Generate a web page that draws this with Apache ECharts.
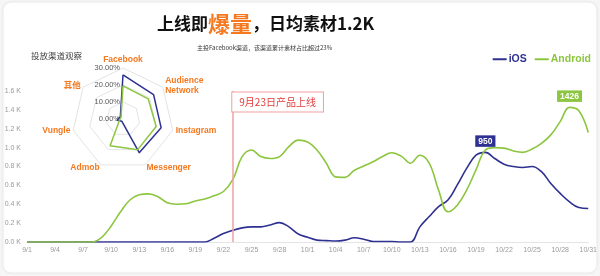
<!DOCTYPE html>
<html>
<head>
<meta charset="utf-8">
<script src="https://cdn.jsdelivr.net/npm/echarts@6/dist/echarts.min.js"></script>
<style>
html,body{margin:0;padding:0;background:#f6f6f6;}
#c{width:600px;height:276px;}
</style>
</head>
<body>
<div id="c"></div>
<script>
// ---- data ----
const dates = [];
for (let d = 1; d <= 30; d++) dates.push('9/' + d);
for (let d = 1; d <= 31; d++) dates.push('10/' + d);

const iosValues = [
  0,0,0,0,0,0,0,0,0,0,
  0,0,0,0,0,0,0,0,0,0,
  40,90,125,150,160,160,180,205,160,85,
  50,20,15,10,20,45,30,5,5,5,
  0,0,160,270,375,445,605,780,920,950,
  885,825,800,790,800,745,620,515,425,365,
  355
];
const androidValues = [
  0,0,0,0,0,0,0,0,50,170,
  320,445,500,510,480,415,400,405,435,455,
  490,535,660,905,975,905,885,905,1010,1080,
  1060,975,835,690,685,760,805,850,905,945,
  910,835,920,835,550,320,390,550,765,975,
  1000,995,965,950,985,1045,1135,1275,1426,1390,
  1160
];
const yTicks = [0, 200, 400, 600, 800, 1000, 1200, 1400, 1600];

const radarNames = ['Facebook', 'Audience\nNetwork', 'Instagram', 'Messenger', 'Admob', 'Vungle', '其他'];
const radarIos = [26, 23, 23, 22, 1.5, 3.5, 2];
const radarAndroid = [19.5, 19, 20, 20, 17.5, 2, 1.5];
const radarTicks = [0, 10, 20, 30];

const launchDate = '9/23';
const launchText = '9月23日产品上线';

// ---- styles ----
const NAVY = '#2e3192';
const GREEN = '#8cc63f';
const ORANGE = '#f47920';
const LATIN = 'Liberation Sans, Arial, Noto Sans CJK SC, sans-serif';
const CJK = 'Noto Sans CJK SC, sans-serif';

// ECharts radar lays indicators out counter-clockwise; reference is clockwise
const order = [0, 6, 5, 4, 3, 2, 1];
const indicators = order.map((i, k) => {
  const o = { name: radarNames[i], min: radarTicks[0], max: radarTicks[radarTicks.length - 1] };
  if (k === 0) {
    o.axisLabel = {
      show: true, color: '#595959', fontSize: 7.5, fontFamily: LATIN, margin: 3,
      formatter: v => Number(v).toFixed(2) + '%'
    };
  }
  return o;
});

const iosMaxIdx = iosValues.indexOf(Math.max(...iosValues));
const andMaxIdx = androidValues.indexOf(Math.max(...androidValues));

const chart = echarts.init(document.getElementById('c'), null, { renderer: 'canvas' });
chart.setOption({
  animation: false,
  backgroundColor: 'transparent',
  graphic: [{
    type: 'rect', z: -10, silent: true,
    shape: { x: 3, y: 2, width: 594, height: 271, r: 8 },
    style: { fill: '#ffffff', stroke: '#ebebeb', lineWidth: 1, shadowBlur: 3, shadowColor: 'rgba(0,0,0,0.06)' }
  }],
  title: [{
    text: '{a|上线即}{b|爆量}{a|，日均素材1.2K}',
    left: 152, top: 8,
    textStyle: {
      rich: {
        a: { fontSize: 17, fontWeight: 'bold', color: '#111', fontFamily: CJK },
        b: { fontSize: 22, fontWeight: 'bold', color: ORANGE, fontFamily: CJK }
      }
    }
  }, {
    text: '主投Facebook渠道，该渠道累计素材占比超过23%',
    left: 192, top: 40,
    textStyle: { fontSize: 6, fontWeight: 'normal', color: '#333', fontFamily: CJK }
  }, {
    text: '投放渠道观察',
    left: 26, top: 47,
    textStyle: { fontSize: 8.5, fontWeight: 'normal', color: '#444', fontFamily: CJK }
  }],
  legend: {
    right: 9, top: 54, padding: 0,
    icon: 'rect',
    itemWidth: 14, itemHeight: 2, itemGap: 8,
    textStyle: { fontSize: 10.5, fontWeight: 'bold', fontFamily: LATIN, padding: [0, 0, 0, -3] },
    data: [
      { name: 'iOS', textStyle: { color: NAVY } },
      { name: 'Android', textStyle: { color: GREEN } }
    ]
  },
  grid: { left: 27, right: 7, top: 91, bottom: 34 },
  xAxis: {
    type: 'category', data: dates, boundaryGap: false,
    axisLine: { lineStyle: { color: '#e4e4e4' } },
    axisTick: { show: false },
    axisLabel: { interval: 2, fontSize: 7, color: '#9a9a9a', fontFamily: LATIN, margin: 5 }
  },
  yAxis: {
    type: 'value', min: yTicks[0], max: yTicks[yTicks.length - 1], interval: yTicks[1] - yTicks[0],
    axisLine: { show: false }, axisTick: { show: false }, splitLine: { show: false },
    axisLabel: { fontSize: 7, color: '#9a9a9a', fontFamily: LATIN, margin: 6,
      formatter: v => (v / 1000).toFixed(1) + ' K' }
  },
  radar: {
    center: [123, 119], radius: 51, startAngle: 90, shape: 'polygon',
    splitNumber: radarTicks.length - 1,
    indicator: indicators,
    nameGap: 3,
    axisName: { color: ORANGE, fontWeight: 'bold', fontSize: 8.5, fontFamily: LATIN, lineHeight: 10 },
    axisLine: { show: false },
    axisTick: { show: false },
    axisLabel: { show: false },
    splitLine: { lineStyle: { color: '#e4e4e4', width: 1 } },
    splitArea: { show: false }
  },
  series: [{
    name: 'iOS', type: 'line', data: iosValues, smooth: 0.4,
    symbol: 'none', color: NAVY,
    lineStyle: { width: 1.6, color: NAVY },
    markPoint: {
      silent: true,
      data: [{
        coord: [dates[iosMaxIdx], iosValues[iosMaxIdx]], value: iosValues[iosMaxIdx],
        symbol: 'rect', symbolSize: 1, itemStyle: { color: 'rgba(0,0,0,0)' },
        label: { show: true, position: 'top', distance: 5, color: '#fff', backgroundColor: NAVY,
          fontWeight: 'bold', fontSize: 8.5, fontFamily: LATIN, padding: [2, 3, 1, 3] }
      }]
    }
  }, {
    name: 'Android', type: 'line', data: androidValues, smooth: 0.4,
    symbol: 'none', color: GREEN,
    lineStyle: { width: 1.6, color: GREEN },
    markLine: {
      silent: true, symbol: ['none', 'none'],
      lineStyle: { color: '#f2a0a0', width: 1.5, type: 'solid' },
      label: { show: false },
      data: [{ xAxis: launchDate }]
    },
    markPoint: {
      silent: true,
      data: [{
        coord: [dates[andMaxIdx], androidValues[andMaxIdx]], value: androidValues[andMaxIdx],
        symbol: 'rect', symbolSize: 1, itemStyle: { color: 'rgba(0,0,0,0)' },
        label: { show: true, position: 'top', distance: 5, color: '#fff', backgroundColor: GREEN,
          fontWeight: 'bold', fontSize: 8.5, fontFamily: LATIN, padding: [2, 3, 1, 3] }
      }, {
        coord: [launchDate, yTicks[yTicks.length - 1]], value: launchText,
        symbol: 'rect', symbolSize: 1, itemStyle: { color: 'rgba(0,0,0,0)' },
        label: { show: true, position: [0, 2], formatter: launchText,
          color: '#e23b3b', fontSize: 10, fontFamily: CJK,
          backgroundColor: '#fff', borderColor: '#f0a0a0', borderWidth: 1,
          padding: [5, 7, 4, 7] }
      }]
    }
  }, {
    type: 'radar', radarIndex: 0, symbol: 'none',
    data: [
      { name: 'iOS', value: order.map(i => radarIos[i]), lineStyle: { color: NAVY, width: 1.5 }, itemStyle: { color: NAVY } },
      { name: 'Android', value: order.map(i => radarAndroid[i]), lineStyle: { color: GREEN, width: 1.5 }, itemStyle: { color: GREEN } }
    ]
  }]
});
</script>
</body>
</html>
